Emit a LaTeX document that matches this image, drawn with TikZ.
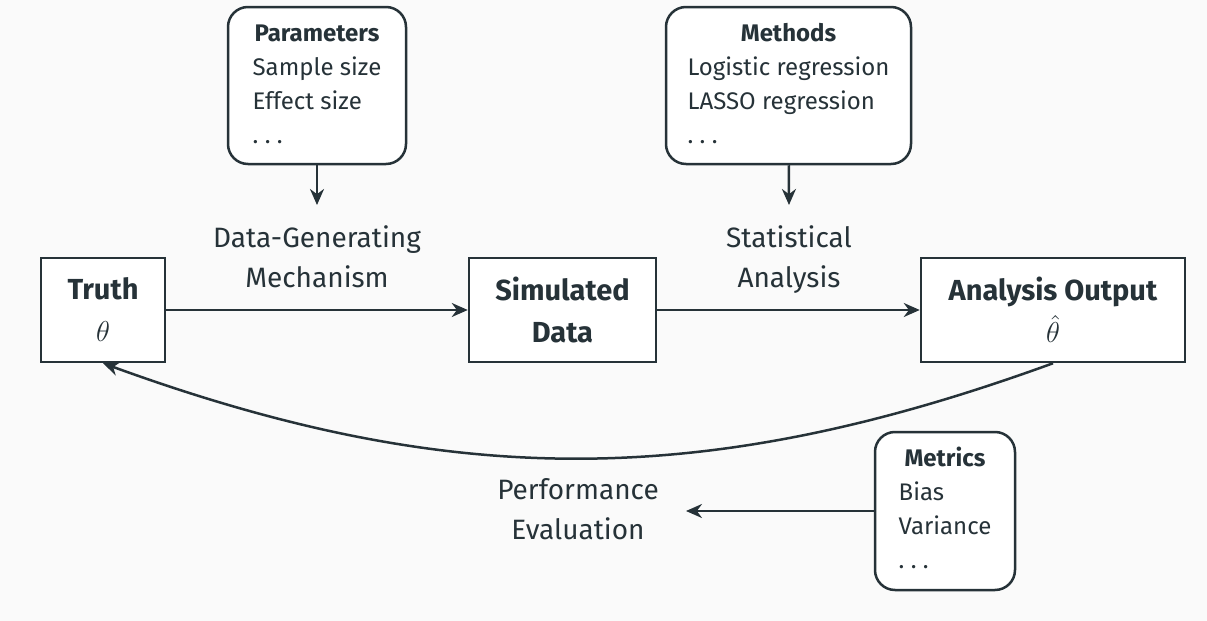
\documentclass[tikz,border=0pt]{standalone}
\usepackage{amsmath}
\usepackage{fontspec}
\setmainfont{Fira Sans}
\usetikzlibrary{arrows.meta}
\definecolor{ink}{HTML}{263238}
\definecolor{paper}{HTML}{FAFAFA}

\begin{document}
\begin{tikzpicture}[x=0.5pt,y=-0.5pt,
    stage/.style={draw=ink,line width=1.25pt,fill=white,text=ink,align=center,
      minimum height=52pt,inner sep=0pt,font=\fontsize{14.5}{21}\selectfont\bfseries},
    info/.style={draw=ink,line width=1.25pt,fill=white,text=ink,rounded corners=10pt,
      inner sep=0pt,minimum height=78.5pt,font=\fontsize{12}{17}\selectfont},
    edgelabel/.style={text=ink,align=center,inner sep=0pt,font=\fontsize{14}{20}\selectfont},
    flow/.style={draw=ink,line width=1.25pt,-{Stealth[length=8pt,width=7pt]}}]
  %\draw[very thin,lightgray] (0,0) grid[step=50] (1207,621);
  \fill[paper] (0,0) rectangle (1207,621);
  \useasboundingbox (0,0) rectangle (1207,621);

  \node[stage,minimum width=62pt] (truth) at (103,310) {Truth\\$\theta$};
  \node[stage,minimum width=93.5pt] (simdata) at (562.5,310) {Simulated\\Data};
  \node[stage,minimum width=132pt] (output) at (1053,310) {Analysis Output\\$\hat{\theta}$};

  \node[info,minimum width=89pt] (params) at (317,85.5)
    {\begin{tabular}{@{}l@{}}\multicolumn{1}{@{}c@{}}{\bfseries Parameters}\\Sample size\\Effect size\\.\ .\ .\end{tabular}};
  \node[info,minimum width=122.5pt] (methods) at (788.5,85.5)
    {\begin{tabular}{@{}l@{}}\multicolumn{1}{@{}c@{}}{\bfseries Methods}\\Logistic regression\\LASSO regression\\.\ .\ .\end{tabular}};
  \node[info,minimum width=70pt,minimum height=79pt] (metrics) at (945,511)
    {\begin{tabular}{@{}l@{}}\multicolumn{1}{@{}c@{}}{\bfseries Metrics}\\Bias\\Variance\\.\ .\ .\end{tabular}};

  \node[edgelabel] (dgm) at (317,259) {\strut Data-Generating\\Mechanism\strut};
  \node[edgelabel] (stat) at (789,259) {\strut Statistical\\Analysis\strut};
  \node[edgelabel] (perf) at (578,511.5) {\strut Performance\\Evaluation\strut};

  \coordinate (dgmin) at (317,205);
  \coordinate (statin) at (789,205);
  \coordinate (perfin) at (686,511);

  \draw[flow] (truth) -- (simdata);
  \draw[flow] (simdata) -- (output);
  \draw[flow] (params) -- (dgmin);
  \draw[flow] (methods) -- (statin);
  \draw[flow] (output.south) to[bend left=20] (truth.south); % sags to about y=458
  \draw[flow] (metrics.west) -- (perfin);
\end{tikzpicture}
\end{document}
